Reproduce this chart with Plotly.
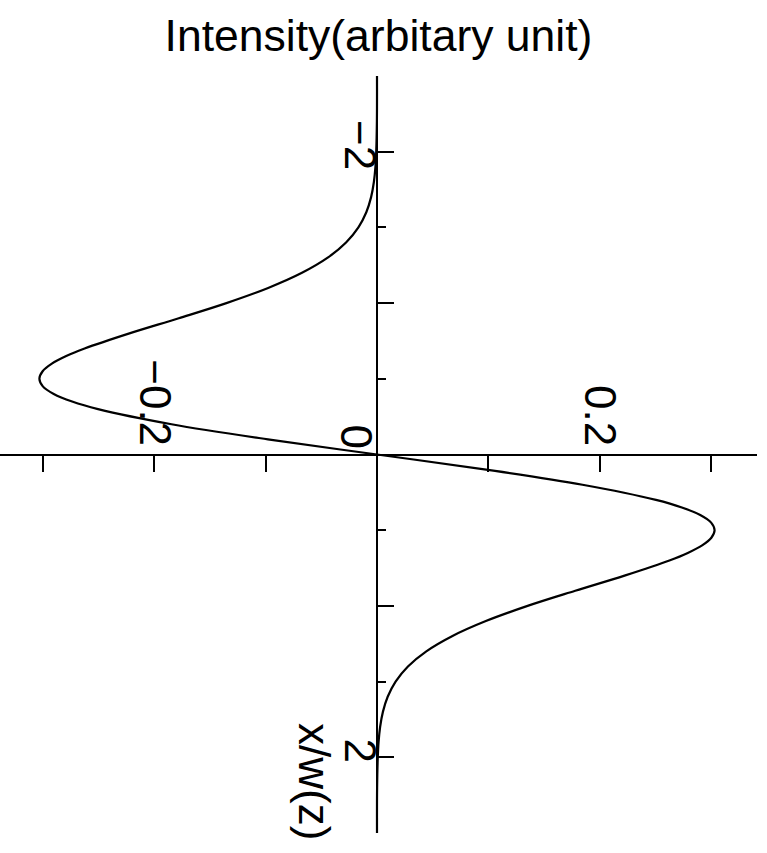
import plotly.graph_objects as go

# -------------------------------------
# DATA
# -------------------------------------

# position across the beam, x/w(z) (vertical axis, -2 at the top)
position = [-2.5, -2.2, -2.0, -1.9, -1.8, -1.7, -1.6, -1.5, -1.4, -1.3, -1.2,
            -1.1, -1.0, -0.9, -0.8, -0.7, -0.65, -0.6, -0.55, -0.5, -0.45,
            -0.4, -0.35, -0.3, -0.2, -0.1, 0.0, 0.1, 0.2, 0.3, 0.35, 0.4,
            0.45, 0.5, 0.55, 0.6, 0.65, 0.7, 0.8, 0.9, 1.0, 1.1, 1.2, 1.3,
            1.4, 1.5, 1.6, 1.7, 1.8, 1.9, 2.0, 2.2, 2.5]

# intensity in arbitrary units (horizontal axis)
intensity = [0.0, -0.0001, -0.0007, -0.0014, -0.0028, -0.0053, -0.0096,
             -0.0167, -0.0278, -0.0443, -0.0674, -0.0978, -0.1353, -0.1781,
             -0.2224, -0.2627, -0.2792, -0.2921, -0.3004, -0.3033, -0.3002,
             -0.2904, -0.2739, -0.2506, -0.1846, -0.0980, 0.0, 0.0980,
             0.1846, 0.2506, 0.2739, 0.2904, 0.3002, 0.3033, 0.3004, 0.2921,
             0.2792, 0.2627, 0.2224, 0.1781, 0.1353, 0.0978, 0.0674, 0.0443,
             0.0278, 0.0167, 0.0096, 0.0053, 0.0028, 0.0014, 0.0007, 0.0001,
             0.0]

x_tickvals = [-0.3, -0.2, -0.1, 0.0, 0.1, 0.2, 0.3]
x_ticktext = ["", "\u22120.2", "", "", "", "0.2", ""]

y_tickvals = [-2, -1, 0, 1, 2]
y_ticktext = ["\u22122", "", "", "", "2"]

x_range = [-0.3387, 0.3414]
y_range = [2.5, -2.5]

FONT = "Liberation Sans, Arial, sans-serif"

# -------------------------------------
# FIGURE
# -------------------------------------

fig = go.Figure()

fig.add_trace(
    go.Scatter(
        x=intensity,
        y=position,
        mode="lines",
        line=dict(color="black", width=2.2, shape="spline", smoothing=1.0),
        showlegend=False,
        hoverinfo="skip"
    )
)

# vertical axis sits where intensity = 0
y_axis_pos = (0 - x_range[0]) / (x_range[1] - x_range[0])

fig.update_layout(
    width=767,
    height=853,
    paper_bgcolor="white",
    plot_bgcolor="white",
    margin=dict(l=0, r=10, t=76, b=20, autoexpand=False),
    font=dict(family=FONT, size=44, color="black"),
    title=dict(
        text="Intensity(arbitary unit)",
        x=0.5,
        xref="paper",
        y=0.958,
        yref="container",
        xanchor="center",
        yanchor="middle",
        font=dict(family=FONT, size=44.5, color="black")
    ),
    xaxis=dict(
        range=x_range,
        anchor="free",
        position=0.5,
        side="top",
        automargin=False,
        showline=True,
        linecolor="black",
        linewidth=2,
        showgrid=False,
        zeroline=False,
        ticks="inside",
        ticklen=16,
        tickwidth=2,
        tickcolor="black",
        tickvals=x_tickvals,
        ticktext=x_ticktext,
        tickangle=90,
        ticklabelstandoff=-8,
        tickfont=dict(family=FONT, size=44, color="black")
    ),
    yaxis=dict(
        range=y_range,
        anchor="free",
        position=y_axis_pos,
        side="left",
        automargin=False,
        showline=True,
        linecolor="black",
        linewidth=2,
        showgrid=False,
        zeroline=False,
        ticks="inside",
        ticklen=16,
        tickwidth=2,
        tickcolor="black",
        tickvals=y_tickvals,
        ticktext=y_ticktext,
        tickangle=90,
        ticklabelstandoff=-22,
        tickfont=dict(family=FONT, size=44, color="black"),
        minor=dict(
            tickvals=[-2.5, -1.5, -0.5, 0.5, 1.5, 2.5],
            ticks="inside",
            ticklen=8,
            tickwidth=2,
            tickcolor="black"
        )
    )
)

# shared origin label and the rotated axis title
fig.add_annotation(
    x=0, y=0, xref="x", yref="y",
    text="0", showarrow=False, textangle=90,
    xanchor="center", yanchor="middle",
    xshift=-21, yshift=18,
    font=dict(family=FONT, size=44, color="black")
)

fig.add_annotation(
    x=0, y=2.157, xref="x", yref="y",
    text="x/w(z)", showarrow=False, textangle=90,
    xanchor="center", yanchor="middle",
    xshift=-62,
    font=dict(family=FONT, size=44, color="black")
)

# drop the page's default body margin so the figure sits at the window corner
fig.write_html(
    "out.html",
    config={"displayModeBar": False},
    post_script="document.body.style.margin = '0px';"
)
